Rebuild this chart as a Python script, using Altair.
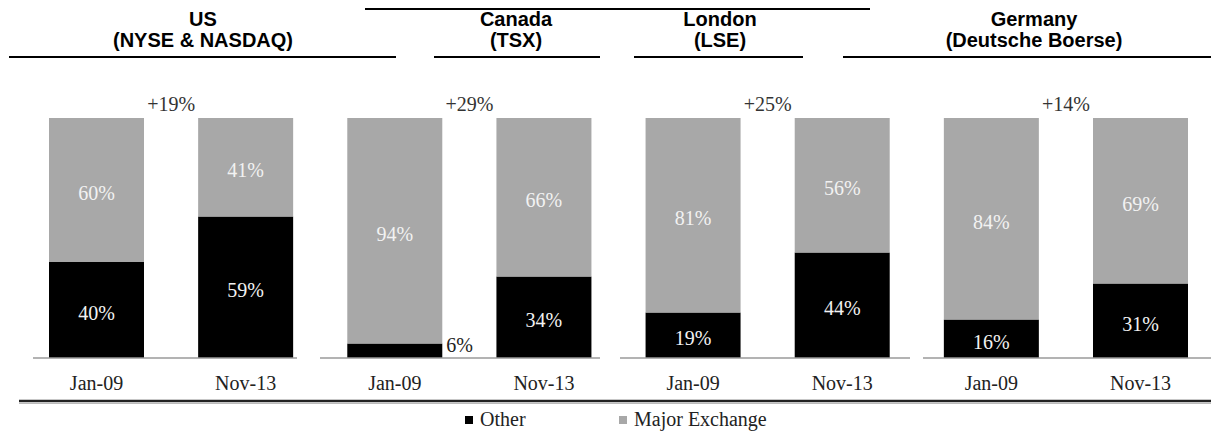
import altair as alt
import pandas as pd

# ---------------- data ----------------
markets = ["US", "Canada", "London", "Germany"]
exchanges = ["(NYSE & NASDAQ)", "(TSX)", "(LSE)", "(Deutsche Boerse)"]
dates = ["Jan-09", "Nov-13"]
segments = ["Other", "Major Exchange"]
other_jan09 = [40, 6, 19, 16]
other_nov13 = [59, 34, 44, 31]
major_jan09 = [60, 94, 81, 84]
major_nov13 = [41, 66, 56, 69]
growth_labels = ["+19%", "+29%", "+25%", "+14%"]

rows = []
for i, m in enumerate(markets):
    pairs = [(dates[0], other_jan09[i], major_jan09[i]),
             (dates[1], other_nov13[i], major_nov13[i])]
    for d, oth, maj in pairs:
        key = f"{m}|{d}"
        rows.append(dict(key=key, market=m, date=d, segment=segments[0], ord=0, value=oth))
        rows.append(dict(key=key, market=m, date=d, segment=segments[1], ord=1, value=maj))
bars_df = pd.DataFrame(rows)
keys = [f"{m}|{d}" for m in markets for d in dates]
date_df = pd.DataFrame({"key": keys, "date": [k.split("|")[1] for k in keys]})
growth_df = pd.DataFrame({"key": [f"{m}|{dates[1]}" for m in markets], "label": growth_labels})

# ---------------- style / layout ----------------
SERIF = "Liberation Serif"
SANS = "Liberation Sans"
W, H = 1203, 423

xscale = alt.Scale(domain=keys, range=[41, 1180], paddingInner=0.363, paddingOuter=0)
yscale = alt.Scale(domain=[0, 100], range=[350, 110])
X = alt.X("key:N", scale=xscale, axis=None)

color = alt.Color(
    "segment:N",
    scale=alt.Scale(domain=segments, range=["#000000", "#a8a8a8"]),
    legend=alt.Legend(
        orient="none", legendX=451, legendY=402, direction="horizontal",
        title=None, symbolType="square", symbolSize=64, symbolStrokeWidth=0,
        labelFont=SERIF, labelFontSize=20, labelColor="#222222", labelOffset=1,
        columnPadding=87, padding=0,
    ),
)

stacked = alt.Chart(bars_df).transform_stack(
    stack="value", as_=["y0", "y1"], groupby=["key"],
    sort=[alt.SortField("ord", order="ascending")],
).transform_calculate(mid="(datum.y0 + datum.y1) / 2", pct="datum.value + '%'")

bars = stacked.mark_bar().encode(
    x=X,
    y=alt.Y("y0:Q", scale=yscale, axis=None),
    y2="y1:Q",
    color=color,
)

seg_labels = stacked.transform_filter("datum.value >= 10").mark_text(
    font=SERIF, fontSize=20, color="#f2f2f2", baseline="middle", dy=4
).encode(x=X, y=alt.Y("mid:Q", scale=yscale, axis=None), text="pct:N")

small_labels = stacked.transform_filter("datum.value < 10").mark_text(
    font=SERIF, fontSize=20, color="#222222", baseline="middle", align="left", dx=4, dy=-5
).encode(
    x=alt.X("key:N", scale=xscale, axis=None, bandPosition=1),
    y=alt.Y("mid:Q", scale=yscale, axis=None),
    text="pct:N",
)

growth = alt.Chart(growth_df).mark_text(
    font=SERIF, fontSize=20, color="#333333", baseline="alphabetic", dx=-27
).encode(
    x=alt.X("key:N", scale=xscale, axis=None, bandPosition=0),
    y=alt.value(103),
    text="label:N",
)

date_labels = alt.Chart(date_df).mark_text(
    font=SERIF, fontSize=20, color="#222222", baseline="alphabetic"
).encode(x=X, y=alt.value(382), text="date:N")

one = alt.Data(values=[{"a": 1}])


def hline(x1, x2, y, col, w):
    return alt.Chart(one).mark_rule(color=col, strokeWidth=w).encode(
        x=alt.value(x1), x2=alt.value(x2), y=alt.value(y)
    )


decor = [
    # top (clipped title) underline
    hline(357, 862, 1, "#000000", 2),
    # header underlines
    hline(1, 388, 49, "#000000", 2),
    hline(426, 592, 49, "#000000", 2),
    hline(626, 795, 49, "#000000", 2),
    hline(835, 1203, 49, "#000000", 2),
    # panel baselines
    hline(25, 289, 350, "#9a9a9a", 1.5),
    hline(312, 592, 350, "#9a9a9a", 1.5),
    hline(612, 902, 350, "#9a9a9a", 1.5),
    hline(915, 1203, 350, "#9a9a9a", 1.5),
    # bottom double rule
    hline(11, 1203, 393, "#222222", 2.5),
    hline(11, 1203, 395.5, "#bbbbbb", 1),
]

header_x = [195, 508, 712, 1026]
headers = []
for i in range(len(markets)):
    hd = alt.Data(values=[{"l1": markets[i], "l2": exchanges[i]}])
    headers.append(alt.Chart(hd).mark_text(
        font=SANS, fontSize=20, fontWeight="bold", color="#000000", baseline="alphabetic"
    ).encode(x=alt.value(header_x[i]), y=alt.value(18), text="l1:N"))
    headers.append(alt.Chart(hd).mark_text(
        font=SANS, fontSize=20, fontWeight="bold", color="#000000", baseline="alphabetic"
    ).encode(x=alt.value(header_x[i]), y=alt.value(39), text="l2:N"))

chart = alt.layer(
    bars, seg_labels, small_labels, growth, date_labels, *decor, *headers
).properties(
    width=W, height=H, autosize=alt.AutoSizeParams(type="none"), padding=0,
    background="#ffffff",
).configure_view(stroke=None)

chart.save("out.html", embed_options={"renderer": "svg", "actions": False})
